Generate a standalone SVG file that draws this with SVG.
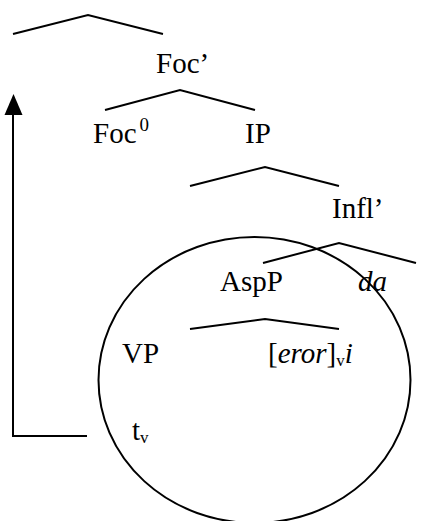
<svg xmlns="http://www.w3.org/2000/svg" width="444" height="521" viewBox="0 0 444 521">
<style>
.t{font-family:"Liberation Serif","Times New Roman",serif;font-size:29px;fill:#000}
.s{font-size:19px}
.v{font-size:17px}
line,polyline,ellipse{stroke:#000;stroke-width:2;fill:none}
</style>
<rect width="444" height="521" fill="#fff"/>
<g id="connectors">
<polyline points="13,34 88,15 163,34"/>
<polyline points="105,110 180,90 255,110"/>
<polyline points="190,186 265,167 339,186"/>
<polyline points="263,263 339,243 416,263"/>
<polyline points="190,329 265,319 339,329"/>
<polyline points="87,436 13,436 13,114"/>
<path d="M4.5 115 L13.5 94 L22.5 115 Z" fill="#000"/>
<ellipse cx="254.5" cy="380" rx="156" ry="143"/>
</g>
<g id="foc-bar"><text class="t" x="156" y="73">Foc’</text></g>
<g id="foc0"><text class="t" x="93" y="143">Foc<tspan class="s" dx="3" dy="-12">0</tspan></text></g>
<g id="ip"><text class="t" x="245" y="143">IP</text></g>
<g id="infl-bar"><text class="t" x="332" y="218">Infl’</text></g>
<g id="aspp"><text class="t" x="220" y="291">AspP</text></g>
<g id="da"><text class="t" x="358" y="291" font-style="italic">da</text></g>
<g id="vp"><text class="t" x="122" y="363">VP</text></g>
<g id="eror"><text class="t" x="268" y="363">[<tspan font-style="italic">eror</tspan>]<tspan class="v" dy="3">v</tspan><tspan font-style="italic" dy="-3">i</tspan></text></g>
<g id="tv"><text class="t" x="132" y="440">t<tspan class="v" dy="3">v</tspan></text></g>
</svg>
